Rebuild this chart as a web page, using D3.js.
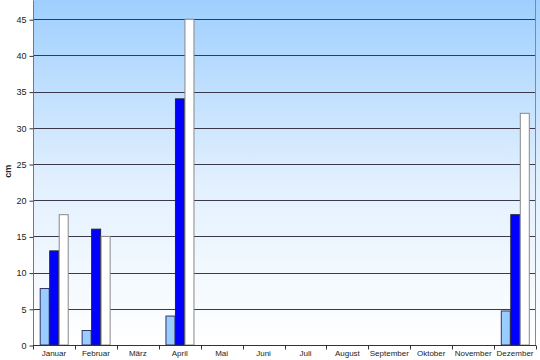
<!DOCTYPE html>
<html>
<head>
<meta charset="utf-8">
<script src="https://cdn.jsdelivr.net/npm/d3@7"></script>
<style>
  body { margin: 0; background: #fff; }
  text { font-family: "Liberation Sans", Arial, sans-serif; }
</style>
</head>
<body>
<div id="root"></div>
<script>
const width = 540;
const height = 360;

const months = ['Januar', 'Februar', 'März', 'April', 'Mai', 'Juni', 'Juli', 'August', 'September', 'Oktober', 'November', 'Dezember'];
// three series per month, null = no bar
const seriesA = [7.8, 2, null, 4, null, null, null, null, null, null, null, 4.7];
const seriesB = [13, 16, null, 34, null, null, null, null, null, null, null, 18];
const seriesC = [18, 15, null, 45, null, null, null, null, null, null, null, 32];
const yTicks = [0, 5, 10, 15, 20, 25, 30, 35, 40, 45];

const colors = ['#99ccff', '#0000ff', '#ffffff'];
const strokes = ['#333366', '#222244', '#888888'];

const padding = {left: 33, right: 4, top: -17, bottom: 15};

const svg = d3.select('#root')
  .append('svg')
  .attr('width', width).attr('height', height);

const xScale = d3.scaleBand()
  .domain(months)
  .range([padding.left, width - padding.right]);

const inner = d3.scaleBand()
  .domain([0, 1, 2])
  .range([xScale.bandwidth() * 0.16, xScale.bandwidth() * 0.84]);

const yScale = d3.scaleLinear()
  .domain([0, 50])
  .range([height - padding.bottom, padding.top]);

// background gradient
const grad = svg.append('defs').append('linearGradient')
  .attr('id', 'bg').attr('x1', 0).attr('y1', 0).attr('x2', 0).attr('y2', 1);
grad.append('stop').attr('offset', '0%').attr('stop-color', '#99ccff');
grad.append('stop').attr('offset', '55%').attr('stop-color', '#e2f0fe');
grad.append('stop').attr('offset', '100%').attr('stop-color', '#ffffff');

svg.append('rect')
  .attr('x', padding.left).attr('y', yScale(50))
  .attr('width', width - padding.left).attr('height', yScale(0) - yScale(50))
  .attr('fill', 'url(#bg)');

// grid lines
svg.append('g')
  .selectAll('line')
  .data(yTicks.filter(d => d > 0))
  .enter().append('line')
  .attr('x1', padding.left).attr('x2', xScale.range()[1])
  .attr('y1', d => Math.round(yScale(d)) + 0.5).attr('y2', d => Math.round(yScale(d)) + 0.5)
  .attr('stroke', '#3a3a4a').attr('stroke-width', 1);

// right border of plot area
svg.append('line')
  .attr('x1', xScale.range()[1] - 0.5).attr('x2', xScale.range()[1] - 0.5)
  .attr('y1', 0).attr('y2', yScale(0))
  .attr('stroke', '#888');

// bars
const series = [seriesA, seriesB, seriesC];
series.forEach((vals, s) => {
  svg.append('g')
    .selectAll('rect')
    .data(months.map((m, i) => ({m, v: vals[i]})).filter(d => d.v != null))
    .enter().append('rect')
    .attr('x', d => xScale(d.m) + inner(s) + 0.5)
    .attr('y', d => yScale(d.v))
    .attr('width', inner.bandwidth() - 0.5)
    .attr('height', d => yScale(0) - yScale(d.v))
    .attr('fill', colors[s])
    .attr('stroke', strokes[s])
    .attr('stroke-width', 1);
});

// axes
const yAxis = d3.axisLeft(yScale).tickValues(yTicks).tickSize(4).tickPadding(3);
const yg = svg.append('g')
  .attr('transform', `translate(${padding.left + 0.5}, 0.5)`)
  .call(yAxis);
yg.select('.domain').attr('stroke', '#777').attr('d', `M-0,${yScale(0)}V0`);
yg.selectAll('.tick line').attr('stroke', '#333');
yg.selectAll('text').attr('font-size', 9).attr('fill', '#222');

const xAxis = d3.axisBottom(xScale).tickSize(0).tickPadding(5);
const xg = svg.append('g')
  .attr('transform', `translate(0, ${yScale(0) + 0.5})`)
  .call(xAxis);
xg.select('.domain').attr('stroke', '#333').attr('d', `M${padding.left},0H${xScale.range()[1]}`);
xg.selectAll('text').attr('font-size', 8).attr('fill', '#222');

// tick marks at category boundaries
xg.append('g')
  .selectAll('line')
  .data(d3.range(months.length + 1))
  .enter().append('line')
  .attr('x1', i => Math.round(padding.left + i * xScale.step()) + 0.5)
  .attr('x2', i => Math.round(padding.left + i * xScale.step()) + 0.5)
  .attr('y1', 0).attr('y2', 4)
  .attr('stroke', '#333');

svg.append('text')
  .attr('transform', `translate(11, ${yScale(24)}) rotate(-90)`)
  .attr('text-anchor', 'middle')
  .attr('font-size', 9)
  .attr('font-weight', 'bold')
  .attr('fill', '#222')
  .text('cm');
</script>
</body>
</html>
